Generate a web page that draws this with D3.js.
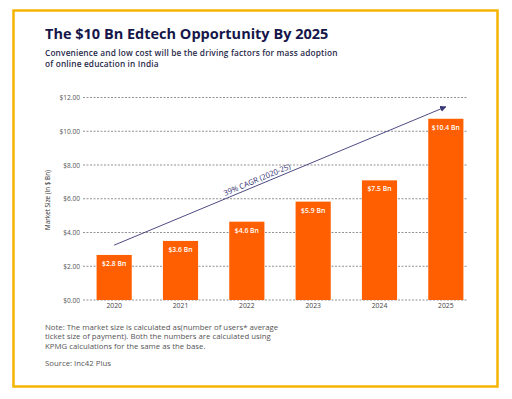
<!DOCTYPE html>
<html>
<head>
<meta charset="utf-8">
<script src="https://cdn.jsdelivr.net/npm/d3@7"></script>
<style>
  body { margin: 0; background: #fff; }
  svg { display: block; font-family: "Open Sans", sans-serif; }
</style>
</head>
<body>
<script>
// datos
var years = ["2020", "2021", "2022", "2023", "2024", "2025"];
var barValues = [2.67, 3.5, 4.64, 5.83, 7.09, 10.74];
var barLabels = ["$2.8 Bn", "$3.6 Bn", "$4.6 Bn", "$5.9 Bn", "$7.5 Bn", "$10.4 Bn"];
var yTicks = [0, 2, 4, 6, 8, 10, 12];
var arrowFrom = ["2020", 3.25];
var arrowTo = ["2025", 11.45];
var noteLines = [
  "Note: The market size is calculated as(number of users* average",
  "ticket size of payment). Both the numbers are calculated using",
  "KPMG calculations for the same as the base."
];

var W = 512, H = 399;
var navy = "#16164a";

var svg = d3.select("body").append("svg")
  .attr("width", W)
  .attr("height", H);

// marco amarillo
svg.append("rect")
  .attr("x", 13.5).attr("y", 10.5)
  .attr("width", 484).attr("height", 376)
  .attr("fill", "#fff")
  .attr("stroke", "#f5b400")
  .attr("stroke-width", 2.5);

// titulo y subtitulo
svg.append("text")
  .attr("x", 45).attr("y", 39)
  .attr("fill", navy)
  .attr("font-size", 14.5)
  .attr("font-weight", 700)
  .text("The $10 Bn Edtech Opportunity By 2025");

svg.append("text")
  .attr("x", 45).attr("y", 55.5)
  .attr("fill", "#2a2a4a")
  .attr("font-size", 8.3)
  .attr("font-weight", 600)
  .attr("letter-spacing", 0.15)
  .text("Convenience and low cost will be the driving factors for mass adoption");
svg.append("text")
  .attr("x", 45).attr("y", 67.2)
  .attr("fill", "#2a2a4a")
  .attr("font-size", 8.3)
  .attr("font-weight", 600)
  .attr("letter-spacing", 0.15)
  .text("of online education in India");

// escalas
var x = d3.scaleBand()
  .domain(years)
  .range([81, 479])
  .paddingInner(0.47)
  .paddingOuter(0.235);

var y = d3.scaleLinear()
  .domain([0, 12])
  .range([300, 97.5]);

// lineas de la grilla
svg.append("g")
  .selectAll("line")
  .data(yTicks)
  .enter()
  .append("line")
  .attr("x1", 83).attr("x2", 467)
  .attr("y1", function(d) { return y(d); })
  .attr("y2", function(d) { return y(d); })
  .attr("stroke", "#777")
  .attr("stroke-width", 0.8)
  .attr("stroke-dasharray", "2,1.5");

// eje y
var yAxis = d3.axisLeft(y)
  .tickValues(yTicks)
  .tickSize(0)
  .tickPadding(2)
  .tickFormat(function(d) { return "$" + d3.format(".2f")(d); });

var gy = svg.append("g")
  .attr("transform", "translate(82,0)")
  .call(yAxis);
gy.select(".domain").remove();
gy.selectAll("text")
  .attr("fill", "#555")
  .attr("font-size", 6.6)
  .attr("font-family", "Open Sans, sans-serif");

// titulo del eje y
svg.append("text")
  .attr("transform", "translate(50,200) rotate(-90)")
  .attr("text-anchor", "middle")
  .attr("fill", "#333")
  .attr("font-size", 6.3)
  .text("Market Size (In $ Bn)");

// barras
svg.append("g")
  .selectAll("rect")
  .data(barValues)
  .enter()
  .append("rect")
  .attr("x", function(d, i) { return x(years[i]); })
  .attr("y", function(d) { return y(d); })
  .attr("width", x.bandwidth())
  .attr("height", function(d) { return y(0) - y(d); })
  .attr("fill", "#ff5f00");

// etiquetas de las barras
svg.append("g")
  .selectAll("text")
  .data(barLabels)
  .enter()
  .append("text")
  .attr("x", function(d, i) { return x(years[i]) + x.bandwidth() / 2; })
  .attr("y", function(d, i) { return y(barValues[i]) + 11; })
  .attr("text-anchor", "middle")
  .attr("fill", "#fff")
  .attr("font-size", 6.8)
  .attr("font-weight", 600)
  .text(function(d) { return d; });

// eje x
var xAxis = d3.axisBottom(x).tickSize(0).tickPadding(3);
var gx = svg.append("g")
  .attr("transform", "translate(0,300)")
  .call(xAxis);
gx.select(".domain").remove();
gx.selectAll("text")
  .attr("fill", "#444")
  .attr("font-size", 6.8)
  .attr("font-family", "Open Sans, sans-serif");

// flecha CAGR
svg.append("defs").append("marker")
  .attr("id", "head")
  .attr("viewBox", "0 0 10 10")
  .attr("refX", 9).attr("refY", 5)
  .attr("markerWidth", 7).attr("markerHeight", 7)
  .attr("orient", "auto")
  .append("path")
  .attr("d", "M0,0 L10,5 L0,10 z")
  .attr("fill", "#3a3775");

var ax1 = x(arrowFrom[0]) + x.bandwidth() / 2, ay1 = y(arrowFrom[1]);
var ax2 = x(arrowTo[0]) + x.bandwidth() / 2, ay2 = y(arrowTo[1]);
svg.append("line")
  .attr("x1", ax1).attr("y1", ay1)
  .attr("x2", ax2).attr("y2", ay2)
  .attr("stroke", "#3a3775")
  .attr("stroke-width", 0.9)
  .attr("marker-end", "url(#head)");

var ang = Math.atan2(ay2 - ay1, ax2 - ax1) * 180 / Math.PI;
var tx = 258, ty = ay1 + (ay2 - ay1) * (tx - ax1) / (ax2 - ax1) - 3;
svg.append("text")
  .attr("transform", "translate(" + tx + "," + ty + ") rotate(" + ang + ")")
  .attr("text-anchor", "middle")
  .attr("fill", "#2e2b6e")
  .attr("font-size", 7.6)
  .text("39% CAGR (2020-25)");

// nota y fuente
svg.append("g")
  .selectAll("text")
  .data(noteLines)
  .enter()
  .append("text")
  .attr("x", 45)
  .attr("y", function(d, i) { return 330 + i * 9.3; })
  .attr("fill", "#555")
  .attr("font-size", 7.8)
  .text(function(d) { return d; });

svg.append("text")
  .attr("x", 45).attr("y", 366)
  .attr("fill", "#555")
  .attr("font-size", 7.8)
  .text("Source: Inc42 Plus");
</script>
</body>
</html>
